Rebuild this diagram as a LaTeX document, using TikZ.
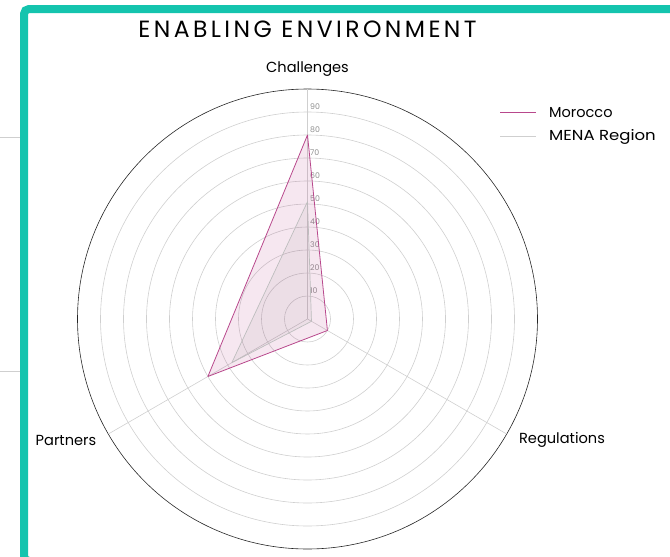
\documentclass[tikz,border=0pt]{standalone}
\usepackage{fontspec}
\setmainfont{Poppins}
\definecolor{teal1}{HTML}{14C4AE}
\definecolor{mor}{HTML}{B8488C}
\definecolor{ringc}{HTML}{CFCFCF}
\definecolor{menac}{HTML}{BDBDBD}
\definecolor{tickc}{HTML}{8E8E8E}
\begin{document}
\begin{tikzpicture}[x=1pt,y=-1pt,
  ring/.style={draw=ringc, line width=0.6pt},
  axisline/.style={draw=ringc, line width=0.6pt},
  catlabel/.style={font=\fontsize{14.6}{16}\selectfont, text=black, inner sep=0pt},
  ticklabel/.style={font=\fontsize{7.8}{8}\selectfont, text=tickc, inner sep=0pt, anchor=west},
  legtext/.style={font=\fontsize{14.5}{16}\selectfont, text=black, inner sep=0pt, anchor=west},
  morline/.style={draw=mor, line width=0.8pt, line join=round},
  menaline/.style={draw=menac, line width=0.7pt, line join=round}]
\useasboundingbox (0,0) rectangle (670,557);
\clip (0,0) rectangle (670,557);
% side marks outside frame
\draw[draw=ringc, line width=0.8pt] (0,137) -- (20,137);
\draw[draw=ringc, line width=0.8pt] (0,371) -- (20,371);
% frame
\draw[draw=teal1, line width=8pt, rounded corners=5pt] (24,9) rectangle (700,561);
% title
\node[font=\fontsize{23.5}{26}\selectfont\addfontfeatures{LetterSpace=14.5}, inner sep=0pt] (title) at (307.5,29) {ENABLING ENVIRONMENT};
% chart
\begin{scope}[shift={(307.5,319)}, y=1pt]
  \coordinate (ctr) at (0,0);
  \foreach \k in {1,...,9} {\draw[ring] (ctr) circle ({23*\k});}
  \draw[draw=black!85, line width=0.6pt] (ctr) circle (230);
  \coordinate (aC) at (90:230);
  \coordinate (aR) at (-30:230);
  \coordinate (aP) at (210:230);
  \draw[axisline] (ctr) -- (aC);
  \draw[axisline] (ctr) -- (aR);
  \draw[axisline] (ctr) -- (aP);
  \foreach \k in {1,...,9} {\node[ticklabel] (t\k) at (2.5,{23*\k+5}) {\k0};}
  % Morocco
  \coordinate (mC) at (90:{80*2.3});
  \coordinate (mR) at (-30:{10*2.3});
  \coordinate (mP) at (210:{50*2.3});
  % MENA
  \coordinate (nC) at (90:{51*2.3});
  \coordinate (nR) at (-30:{2*2.3});
  \coordinate (nP) at (210:{38*2.3});
  \fill[mor, fill opacity=0.13] (mC) -- (mR) -- (mP) -- cycle;
  \fill[black, fill opacity=0.04] (nC) -- (nR) -- (nP) -- cycle;
  \draw[menaline] (nC) -- (nR) -- (nP) -- cycle;
  \draw[morline] (mC) -- (mR) -- (mP) -- cycle;
\end{scope}
% category labels
\node[catlabel] (lC) at (307.5,69) {Challenges};
\node[catlabel] (lR) at (562,440) {Regulations};
\node[catlabel] (lP) at (66,440) {Partners};
% legend
\coordinate (l1a) at (500,112); \coordinate (l1b) at (536,112);
\coordinate (l2a) at (500,136.5); \coordinate (l2b) at (536,136.5);
\draw[draw=mor, line width=0.8pt] (l1a) -- (l1b);
\draw[draw=ringc, line width=0.8pt] (l2a) -- (l2b);
\node[legtext] (leg1) at (549,112.5) {Morocco};
\node[legtext, xscale=1.14] (leg2) at (549,137) {MENA Region};
\end{tikzpicture}
\end{document}
